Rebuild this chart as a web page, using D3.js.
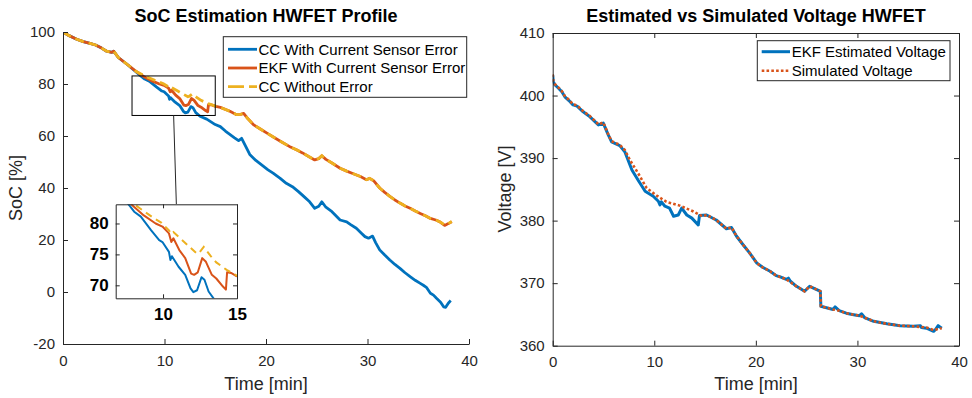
<!DOCTYPE html>
<html>
<head>
<meta charset="utf-8">
<script src="https://cdn.jsdelivr.net/npm/d3@7"></script>
<style>
  html, body { margin: 0; padding: 0; background: #fff; }
  svg { display: block; font-family: "Liberation Sans", Arial, Helvetica, sans-serif; }
  .tick text { fill: #262626; }
  .domain, .tick line { stroke: #262626; }
</style>
</head>
<body>
<svg id="chart" width="972" height="398"></svg>
<script>
// ---------------- DATA ----------------
// Left panel: SoC [%] vs time [min]
const socTimeCCErr = [0,0.5,1.35,2.0,2.66,3.2,3.8,4.3,4.8,5.0,5.45,6.4,7.0,7.6,8.05,8.5,9.2,9.74,9.96,10.4,10.5,10.6,11.05,11.5,11.86,12.05,12.3,12.6,12.8,13.08,13.5,14.16,15.0,15.5,16.0,16.9,17.3,17.6,18.0,18.4,19.0,19.6,20.2,20.7,21.4,22.0,22.6,23.2,23.8,24.3,24.8,25.2,25.5,25.9,26.5,27.3,27.95,28.3,28.9,29.4,29.75,30.1,30.5,30.8,31.2,31.7,32.2,32.7,33.2,33.7,34.2,34.7,35.2,35.5,35.8,36.2,36.5,36.8,37.2,37.5,37.7,37.96,38.2];
const socCCErr = [100,98.8,97.2,96.3,95.6,95.0,93.8,92.6,92.2,92.6,90.2,87.3,85.3,83.3,81.9,81.1,78.9,77.3,77.0,75.4,74.1,74.7,73.0,71.7,69.5,68.9,69.2,71.3,70.9,69.0,67.6,66.5,64.4,63.6,61.9,59.3,58.2,59.1,56.0,52.9,50.6,48.8,47.0,45.7,43.7,41.8,40.5,38.6,36.5,34.7,32.2,33.0,34.7,32.6,30.9,27.7,27.0,26.0,24.5,22.6,21.3,20.7,21.5,19.0,16.2,14.2,12.3,10.6,9.1,7.4,5.9,4.5,3.3,2.6,1.8,-0.5,-1.2,-2.4,-3.9,-5.7,-5.9,-4.3,-3.3];

const socTimeEKF = [0,0.5,1.35,2.0,2.66,3.2,3.8,4.3,4.8,5.0,5.45,6.4,7.26,7.9,8.7,9.5,9.96,10.4,10.56,10.7,11.1,11.5,11.9,12.1,12.35,12.65,12.9,13.3,13.6,14.05,14.25,14.33,14.6,14.96,15.5,16.45,17.1,17.5,17.8,18.2,18.75,19.4,20.1,20.8,21.5,22.3,23.0,23.6,24.2,24.8,25.2,25.5,25.9,26.5,27.3,27.95,28.6,29.3,29.9,30.2,30.6,31.2,31.7,32.2,32.7,33.2,33.7,34.2,34.7,35.2,35.7,36.2,36.8,37.2,37.6,37.96,38.3];
const socEKF = [100,98.8,97.2,96.3,95.6,95.0,93.8,92.6,92.2,92.6,90.2,87.3,84.7,83.0,81.3,80.0,79.5,78.4,77.0,77.6,75.7,74.4,71.9,71.7,72.1,74.4,73.8,71.7,71.1,69.8,69.3,72.1,72.0,71.5,71.0,69.5,68.2,68.3,68.7,66.7,64.4,62.8,61.1,59.4,57.8,56.0,54.7,53.5,52.1,50.8,51.3,52.4,51.0,49.6,47.6,46.5,45.5,44.4,43.2,43.7,42.8,40.0,38.3,36.8,35.4,34.2,33.1,32.2,31.2,30.2,29.3,28.3,27.6,26.8,25.6,26.3,27.0];

const socTimeCCNoErr = [0,0.5,1.35,2.0,2.66,3.2,3.8,4.3,4.8,5.0,5.45,6.4,7.26,8.0,8.7,9.3,9.9,10.4,10.55,10.7,11.3,11.8,12.3,12.45,12.75,13.2,13.6,14.3,14.96,15.5,16.45,17.1,17.5,17.8,18.2,18.75,19.4,20.1,20.8,21.5,22.3,23.0,23.6,24.2,24.8,25.2,25.5,25.9,26.5,27.3,27.95,28.6,29.3,29.9,30.2,30.6,31.2,31.7,32.2,32.7,33.2,33.7,34.2,34.7,35.2,35.7,36.2,36.8,37.2,37.6,37.96,38.3];
const socCCNoErr = [100,98.8,97.2,96.3,95.6,95.0,93.8,92.6,92.2,92.6,90.2,87.3,84.7,83.2,82.0,81.0,80.1,78.9,78.3,78.6,77.3,76.2,75.1,75.3,76.2,74.8,73.7,72.5,71.6,71.0,69.5,68.2,68.3,68.7,66.7,64.4,62.8,61.1,59.4,57.8,56.0,54.7,53.5,52.1,50.8,51.3,52.4,51.0,49.6,47.6,46.5,45.5,44.4,43.2,43.7,42.8,40.0,38.3,36.8,35.4,34.2,33.1,32.2,31.2,30.2,29.3,28.3,27.6,26.8,25.8,26.2,27.2];

const socSeriesNames = ["CC With Current Sensor Error", "EKF With Current Sensor Error", "CC Without Error"];

// Right panel: Voltage [V] vs time [min]
const voltTimeEKF = [0,0.06,0.23,0.55,0.9,1.2,1.6,2.0,2.4,3.0,3.67,4.5,4.98,5.47,5.8,6.6,7.1,7.8,8.4,9.1,9.9,10.4,10.56,10.7,11.05,11.5,11.9,12.36,12.7,13.2,13.7,14.33,14.45,15.15,16.1,17.1,17.6,18.1,18.76,19.4,20.1,20.7,21.4,22.0,22.4,23.0,23.2,23.4,24.0,24.8,25.3,26.1,26.35,26.4,27.6,27.8,28.2,28.9,29.5,30.2,30.4,30.7,31.6,32.9,34.2,35.5,36.2,36.3,36.8,37.5,37.7,37.95,38.3];
const voltEKF = [403.3,402.2,401.7,401.2,400.6,399.8,399.2,398.5,398.3,397.4,396.6,395.3,395.6,393.7,392.6,392.0,391.0,388.1,386.5,384.7,383.9,383.1,382.5,383.0,382.3,382.0,380.7,380.9,382.0,380.9,380.4,379.3,380.8,380.9,380.1,378.7,378.9,377.5,376.1,374.8,373.2,372.5,371.9,371.2,371.0,370.6,370.8,370.3,369.5,368.7,369.5,368.9,368.7,366.3,365.8,366.2,365.6,365.2,365.0,364.8,365.1,364.5,363.9,363.5,363.2,363.1,363.2,362.9,362.8,362.3,362.6,363.2,362.8];

const voltTimeSim = [0,0.06,0.23,0.55,0.9,1.2,1.6,2.0,2.4,3.0,3.67,4.5,4.98,5.47,5.8,6.6,7.1,7.6,8.4,9.25,10.24,11.2,12.5,13.8,14.7,15.15,16.1,17.1,17.6,18.1,18.76,19.4,20.1,20.7,21.4,22.0,22.4,23.0,24.0,24.8,25.3,26.1,26.35,26.4,27.6,28.2,28.9,29.5,30.2,30.7,31.6,32.9,34.2,35.5,36.8,37.5,38.3];
const voltSim = [403.4,402.3,401.8,401.3,400.7,399.9,399.3,398.6,398.4,397.5,396.7,395.4,395.7,393.8,392.7,392.1,391.3,389.7,387.6,385.2,384.0,383.0,382.4,381.5,380.7,380.9,380.1,378.7,378.9,377.5,376.1,374.8,373.2,372.5,371.9,371.2,371.0,370.6,369.5,368.7,369.5,368.9,368.7,366.3,365.8,365.6,365.2,365.0,364.8,364.5,363.9,363.5,363.2,363.1,362.9,362.5,362.8];

const voltSeriesNames = ["EKF Estimated Voltage", "Simulated Voltage"];

const timeTicks = [0, 10, 20, 30, 40];
const socTicks = [-20, 0, 20, 40, 60, 80, 100];
const voltTicks = [360, 370, 380, 390, 400, 410];
const insetXTicks = [10, 15];
const insetYTicks = [70, 75, 80];
const insetXDomain = [6.8, 15];
const insetYDomain = [67.9, 83.1];

// ---------------- DRAW ----------------
const C_BLUE = "#0072BD", C_RED = "#D95319", C_YEL = "#EDB120", C_TXT = "#262626";
const fmt = d => String(d);   // plain hyphen-minus like the reference
const svg = d3.select("#chart");
const defs = svg.append("defs");

function zip(ts, vs) { return ts.map((t, i) => [t, vs[i]]); }

// ---- Left panel ----
const xL = d3.scaleLinear().domain([0, 40]).range([63, 469]);
const yL = d3.scaleLinear().domain([-20, 100]).range([344, 32]);

defs.append("clipPath").attr("id", "clipL").append("rect")
  .attr("x", 63).attr("y", 32).attr("width", 406).attr("height", 312);

const lineL = d3.line().x(d => xL(d[0])).y(d => yL(d[1]));
const gL = svg.append("g");
const gLd = gL.append("g").attr("clip-path", "url(#clipL)");
gLd.append("path").attr("d", lineL(zip(socTimeCCErr, socCCErr)))
  .attr("fill", "none").attr("stroke", C_BLUE).attr("stroke-width", 2.8).attr("stroke-linejoin", "round");
gLd.append("path").attr("d", lineL(zip(socTimeEKF, socEKF)))
  .attr("fill", "none").attr("stroke", C_RED).attr("stroke-width", 2.8).attr("stroke-linejoin", "round");
gLd.append("path").attr("d", lineL(zip(socTimeCCNoErr, socCCNoErr)))
  .attr("fill", "none").attr("stroke", C_YEL).attr("stroke-width", 2.8).attr("stroke-dasharray", "9,5");

const axLx = gL.append("g").attr("transform", "translate(0,344)")
  .call(d3.axisBottom(xL).tickValues(timeTicks).tickFormat(fmt).tickSizeInner(-5).tickSizeOuter(0).tickPadding(11));
const axLy = gL.append("g").attr("transform", "translate(63,0)")
  .call(d3.axisLeft(yL).tickValues(socTicks).tickFormat(fmt).tickSizeInner(-5).tickSizeOuter(0).tickPadding(8));
[axLx, axLy].forEach(a => { a.attr("font-size", 15).attr("font-family", null); });

// zoom rectangle and connector
const rx0 = xL(insetXDomain[0]), rx1 = xL(insetXDomain[1]);
const ry0 = yL(insetYDomain[1]), ry1 = yL(insetYDomain[0]);
gL.append("rect").attr("x", rx0).attr("y", ry0).attr("width", rx1 - rx0).attr("height", ry1 - ry0)
  .attr("fill", "none").attr("stroke", "#000").attr("stroke-width", 1);

// ---- Inset ----
const xI = d3.scaleLinear().domain(insetXDomain).range([115.7, 237]);
const yI = d3.scaleLinear().domain(insetYDomain).range([298.3, 204.3]);
gL.append("line").attr("x1", (rx0 + rx1) / 2).attr("y1", ry1)
  .attr("x2", (115.7 + 237) / 2).attr("y2", 204.3).attr("stroke", "#262626").attr("stroke-width", 1);

defs.append("clipPath").attr("id", "clipI").append("rect")
  .attr("x", 115.7).attr("y", 204.3).attr("width", 237 - 115.7).attr("height", 298.3 - 204.3);
const gI = svg.append("g");
gI.append("rect").attr("x", 115.7).attr("y", 204.3).attr("width", 237 - 115.7).attr("height", 298.3 - 204.3)
  .attr("fill", "#fff");
const lineI = d3.line().x(d => xI(d[0])).y(d => yI(d[1]));
const gId = gI.append("g").attr("clip-path", "url(#clipI)");
gId.append("path").attr("d", lineI(zip(socTimeCCErr, socCCErr)))
  .attr("fill", "none").attr("stroke", C_BLUE).attr("stroke-width", 2).attr("stroke-linejoin", "round");
gId.append("path").attr("d", lineI(zip(socTimeEKF, socEKF)))
  .attr("fill", "none").attr("stroke", C_RED).attr("stroke-width", 2).attr("stroke-linejoin", "round");
gId.append("path").attr("d", lineI(zip(socTimeCCNoErr, socCCNoErr)))
  .attr("fill", "none").attr("stroke", C_YEL).attr("stroke-width", 2).attr("stroke-dasharray", "7,5");

const aIb = gI.append("g").attr("transform", "translate(0,298.3)")
  .call(d3.axisBottom(xI).tickValues(insetXTicks).tickFormat(fmt).tickSizeInner(-4).tickSizeOuter(0).tickPadding(10));
const aIl = gI.append("g").attr("transform", "translate(115.7,0)")
  .call(d3.axisLeft(yI).tickValues(insetYTicks).tickFormat(fmt).tickSizeInner(-4).tickSizeOuter(0).tickPadding(7));
const aIt = gI.append("g").attr("transform", "translate(0,204.3)")
  .call(d3.axisTop(xI).tickValues(insetXTicks).tickSizeInner(-4).tickSizeOuter(0).tickFormat(""));
const aIr = gI.append("g").attr("transform", "translate(237,0)")
  .call(d3.axisRight(yI).tickValues(insetYTicks).tickSizeInner(-4).tickSizeOuter(0).tickFormat(""));
[aIb, aIl].forEach(a => a.attr("font-size", 17).attr("font-family", null).attr("font-weight", "bold"));
[aIb, aIl, aIt, aIr].forEach(a => a.selectAll(".tick text").style("fill", "#000"));

// Left titles / labels
svg.append("text").attr("x", 266).attr("y", 22).attr("text-anchor", "middle")
  .attr("font-size", 18).attr("font-weight", "bold").attr("fill", "#000").text("SoC Estimation HWFET Profile");
svg.append("text").attr("x", 266).attr("y", 389.5).attr("text-anchor", "middle")
  .attr("font-size", 18).attr("fill", C_TXT).text("Time [min]");
svg.append("text").attr("transform", "translate(21.5,188) rotate(-90)").attr("text-anchor", "middle")
  .attr("font-size", 18).attr("fill", C_TXT).text("SoC [%]");

// Left legend
const legL = svg.append("g");
legL.append("rect").attr("x", 223.3).attr("y", 36.7).attr("width", 243.4).attr("height", 60.6)
  .attr("fill", "#fff").attr("stroke", C_TXT).attr("stroke-width", 1);
const legLStyles = [
  { c: C_BLUE, dash: null },
  { c: C_RED, dash: null },
  { c: C_YEL, dash: "16,5" }
];
socSeriesNames.forEach((name, i) => {
  const y = 49.3 + i * 18.7;
  const ln = legL.append("line").attr("x1", 228).attr("x2", 257).attr("y1", y).attr("y2", y)
    .attr("stroke", legLStyles[i].c).attr("stroke-width", 2.8);
  if (legLStyles[i].dash) ln.attr("stroke-dasharray", legLStyles[i].dash);
  legL.append("text").attr("x", 258.5).attr("y", y + 5.3).attr("font-size", 15).attr("fill", "#000").text(name);
});

// ---- Right panel ----
const xR = d3.scaleLinear().domain([0, 40]).range([552.7, 959]);
const yR = d3.scaleLinear().domain([360, 410]).range([345.7, 33]);
defs.append("clipPath").attr("id", "clipR").append("rect")
  .attr("x", 552.7).attr("y", 33).attr("width", 959 - 552.7).attr("height", 345.7 - 33);
const gR = svg.append("g");
const lineR = d3.line().x(d => xR(d[0])).y(d => yR(d[1]));
const gRd = gR.append("g").attr("clip-path", "url(#clipR)");
gRd.append("path").attr("d", lineR(zip(voltTimeEKF, voltEKF)))
  .attr("fill", "none").attr("stroke", C_BLUE).attr("stroke-width", 3).attr("stroke-linejoin", "round");
gRd.append("path").attr("d", lineR(zip(voltTimeSim, voltSim)))
  .attr("fill", "none").attr("stroke", C_RED).attr("stroke-width", 2.6).attr("stroke-dasharray", "2.6,2.2");

const aRb = gR.append("g").attr("transform", "translate(0,345.7)")
  .call(d3.axisBottom(xR).tickValues(timeTicks).tickFormat(fmt).tickSizeInner(-5).tickSizeOuter(0).tickPadding(11));
const aRl = gR.append("g").attr("transform", "translate(552.7,0)")
  .call(d3.axisLeft(yR).tickValues(voltTicks).tickFormat(fmt).tickSizeInner(-5).tickSizeOuter(0).tickPadding(8));
const aRt = gR.append("g").attr("transform", "translate(0,33)")
  .call(d3.axisTop(xR).tickValues(timeTicks).tickSizeInner(-5).tickSizeOuter(0).tickFormat(""));
const aRr = gR.append("g").attr("transform", "translate(959,0)")
  .call(d3.axisRight(yR).tickValues(voltTicks).tickSizeInner(-5).tickSizeOuter(0).tickFormat(""));
[aRb, aRl].forEach(a => a.attr("font-size", 15).attr("font-family", null));

svg.append("text").attr("x", 756).attr("y", 22).attr("text-anchor", "middle")
  .attr("font-size", 18).attr("font-weight", "bold").attr("fill", "#000").text("Estimated vs Simulated Voltage HWFET");
svg.append("text").attr("x", 756).attr("y", 389.5).attr("text-anchor", "middle")
  .attr("font-size", 18).attr("fill", C_TXT).text("Time [min]");
svg.append("text").attr("transform", "translate(511,189) rotate(-90)").attr("text-anchor", "middle")
  .attr("font-size", 18).attr("fill", C_TXT).text("Voltage [V]");

// Right legend
const legR = svg.append("g");
legR.append("rect").attr("x", 757.3).attr("y", 40.7).attr("width", 192.7).attr("height", 40)
  .attr("fill", "#fff").attr("stroke", C_TXT).attr("stroke-width", 1);
const legRStyles = [
  { c: C_BLUE, dash: null, w: 3 },
  { c: C_RED, dash: "2.6,2.2", w: 2.6 }
];
voltSeriesNames.forEach((name, i) => {
  const y = 51.7 + i * 19;
  const ln = legR.append("line").attr("x1", 761.7).attr("x2", 790).attr("y1", y).attr("y2", y)
    .attr("stroke", legRStyles[i].c).attr("stroke-width", legRStyles[i].w);
  if (legRStyles[i].dash) ln.attr("stroke-dasharray", legRStyles[i].dash);
  legR.append("text").attr("x", 791.7).attr("y", y + 5.3).attr("font-size", 15).attr("fill", "#000").text(name);
});
</script>
</body>
</html>
